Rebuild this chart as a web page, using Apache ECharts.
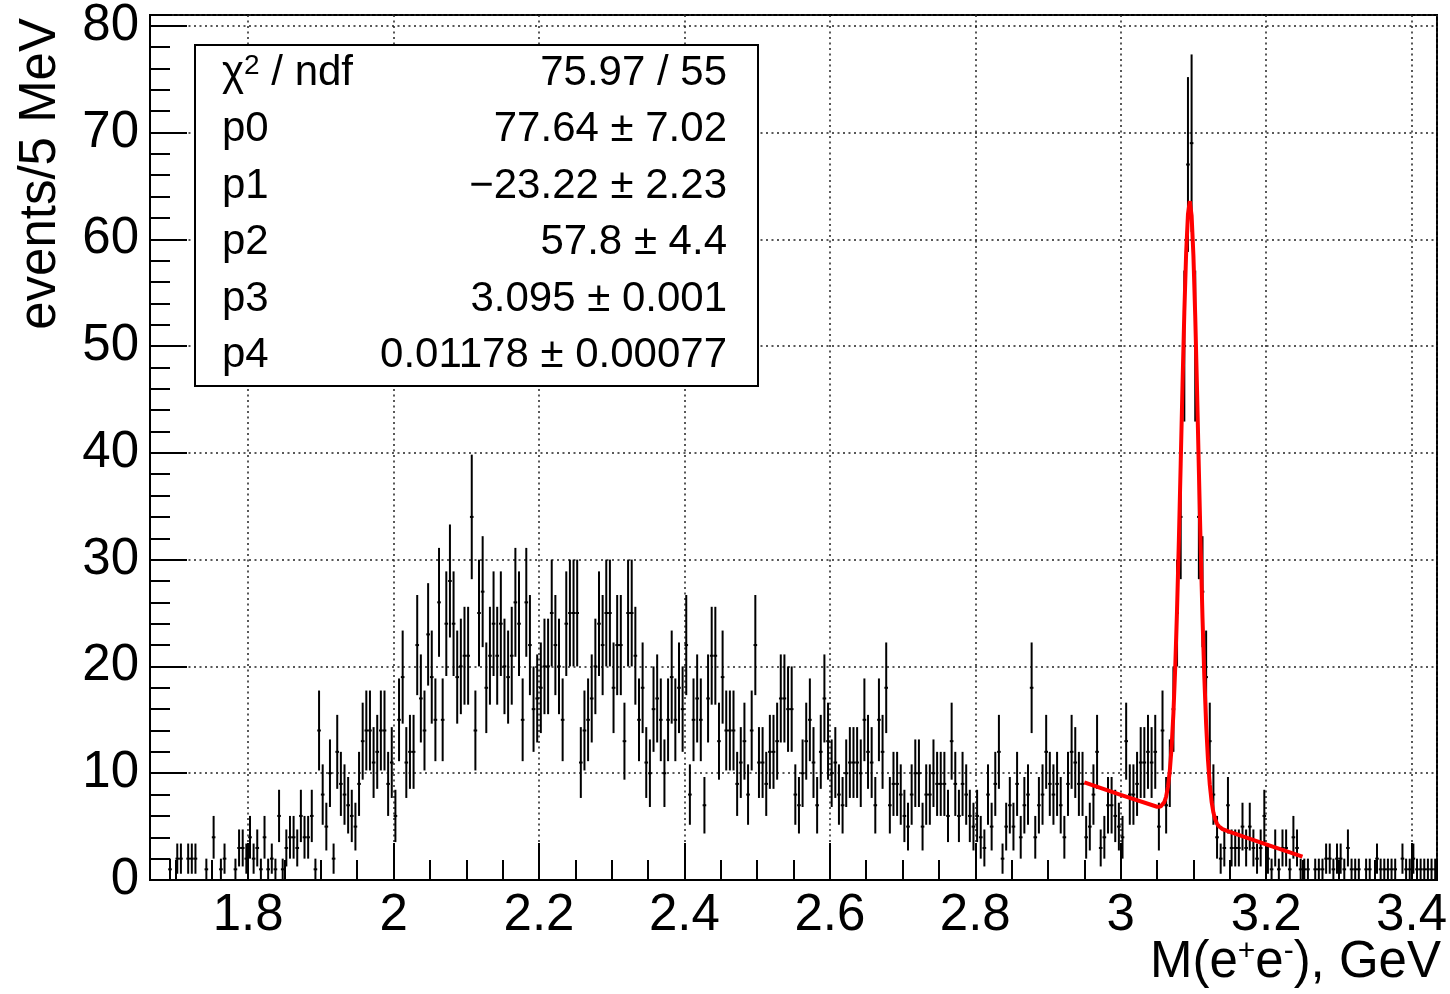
<!DOCTYPE html>
<html>
<head>
<meta charset="utf-8">
<script src="https://cdn.jsdelivr.net/npm/echarts@6/dist/echarts.min.js"></script>
<style>
  html, body { margin: 0; padding: 0; background: #fff; }
  #chart { width: 1450px; height: 994px; }
</style>
</head>
<body>
<div id="chart"></div>
<script>
// histogram range, 5 MeV bins
var xMin = 1.665;
var xMax = 3.435;
var binWidth = 0.005;
var yMax = 81;

// events per bin (bin 0 starts at xMin)
var counts = [
  0,0,0,0,0,1,0,2,2,0, 2,2,2,0,0,1,0,4,0,1,
  2,0,0,1,3,3,2,4,2,3, 1,4,1,2,1,6,1,3,4,4,
  3,6,4,4,6,1,14,8,5,10, 2,12,9,8,7,6,5,9,13,14,
  14,11,12,14,14,9,11,6,15,19, 11,12,12,22,17,14,23,19,15,26,
  15,24,28,24,19,20,21,21,34,14, 25,27,18,21,24,21,24,20,19,21,
  26,24,15,26,22,16,17,18,20,20, 25,22,20,15,24,25,25,25,11,14,
  15,17,20,24,22,25,25,18,22,22, 13,25,25,21,15,18,11,10,16,17,
  15,10,15,19,15,18,16,22,8,15, 17,15,7,17,21,21,13,19,14,14,
  14,9,11,13,8,14,22,11,11,9, 12,12,13,17,17,16,16,8,7,10,
  13,15,11,7,12,17,13,10,11,8, 7,10,11,11,11,10,15,12,11,7,
  15,12,18,7,9,9,8,6,5,8, 10,10,5,8,8,10,9,9,9,6,
  13,9,6,9,8,6,5,6,4,3, 8,5,9,12,2,5,7,5,9,4,
  7,8,18,4,7,8,12,9,8,9, 7,4,9,12,11,9,9,4,5,8,
  12,3,4,7,7,6,5,4,13,8, 8,9,11,11,12,11,12,5,14,7,
  10,16,25,34,50,67,69,50,34,27, 19,13,8,4,2,3,7,3,3,3,
  5,3,5,3,2,3,6,2,1,3, 1,3,3,1,4,3,1,1,1,0,
  1,1,1,2,2,1,2,2,1,3, 1,1,1,0,1,1,0,2,1,1,
  1,1,1,0,2,1,1,2,1,1, 1,1,1,1
];

// red fit curve (pol1 + gaus)
var fitX = [2.95, 3.0, 3.05, 3.0525, 3.055, 3.0575, 3.06, 3.0625, 3.065, 3.0675,
            3.07, 3.0725, 3.075, 3.0775, 3.08, 3.0825, 3.085, 3.0875, 3.09, 3.0925,
            3.095, 3.0975, 3.1, 3.1025, 3.105, 3.1075, 3.11, 3.1125, 3.115, 3.1175,
            3.12, 3.1225, 3.125, 3.1275, 3.13, 3.1325, 3.135, 3.1375, 3.14, 3.15, 3.2, 3.25];
var fitY = [9.14, 7.98, 6.86, 6.85, 6.88, 7.01, 7.29, 7.82, 8.73, 10.20,
            12.43, 15.63, 19.92, 25.35, 31.82, 38.98, 46.33, 53.14, 58.71, 62.34,
            63.57, 62.23, 58.48, 52.79, 45.86, 38.40, 31.13, 24.54, 18.99, 14.58,
            11.27, 8.93, 7.34, 6.31, 5.66, 5.26, 5.03, 4.88, 4.77, 4.50, 3.34, 2.18];

// stats box
var statNames = ['χ{sup|2} / ndf', 'p0', 'p1', 'p2', 'p3', 'p4'];
var statValues = ['75.97 / 55', '77.64 ± 7.02', '−23.22 ± 2.23', '57.8 ± 4.4', '3.095 ± 0.001', '0.01178 ± 0.00077'];

var FONT = '"Liberation Sans", Arial, Helvetica, sans-serif';

var histData = [];
for (var i = 0; i < counts.length; i++) {
  if (counts[i] > 0) histData.push([xMin + (i + 0.5) * binWidth, counts[i]]);
}
var fitData = fitX.map(function (x, k) { return [x, fitY[k]]; });

function renderErr(params, api) {
  var x = api.value(0), y = api.value(1);
  var e = Math.sqrt(y);   // poisson error, as ROOT draws it
  var l = api.coord([x - binWidth / 2, y]);
  var r = api.coord([x + binWidth / 2, y]);
  var t = api.coord([x, y + e]);
  var b = api.coord([x, Math.max(y - e, 0)]);
  var st = { stroke: '#000', lineWidth: 2 };
  return {
    type: 'group',
    children: [
      { type: 'line', shape: { x1: l[0], y1: l[1], x2: r[0], y2: r[1] }, style: st },
      { type: 'line', shape: { x1: t[0], y1: t[1], x2: b[0], y2: b[1] }, style: st }
    ]
  };
}

var gridLine = { show: true, lineStyle: { color: '#222', width: 1.5, type: [2, 3.5] } };
var axLine = { show: true, lineStyle: { color: '#000', width: 2 } };
var supStyle = { fontSize: 28, fontFamily: 'Liberation Sans', verticalAlign: 'top', fill: '#000', padding: [0, 0, 12, 0] };

var statGraphics = [{
  type: 'rect', z: 100,
  shape: { x: 195, y: 45, width: 563, height: 341 },
  style: { fill: '#fff', stroke: '#000', lineWidth: 2 }
}];
for (var s = 0; s < statNames.length; s++) {
  var yy = 73 + s * 56.5;
  statGraphics.push({
    type: 'text', z: 101, x: 222, y: yy,
    style: { text: statNames[s], font: '42px ' + FONT, fill: '#000', textAlign: 'left', textVerticalAlign: 'middle',
             rich: { sup: supStyle } }
  });
  statGraphics.push({
    type: 'text', z: 101, x: 727, y: yy,
    style: { text: statValues[s], font: '42px ' + FONT, fill: '#000', textAlign: 'right', textVerticalAlign: 'middle' }
  });
}

var chart = echarts.init(document.getElementById('chart'));
chart.setOption({
  animation: false,
  backgroundColor: '#fff',
  textStyle: { fontFamily: FONT },
  grid: { left: 150, top: 15, right: 9, bottom: 114, show: true, borderColor: '#000', borderWidth: 2 },
  xAxis: [{
    type: 'value', min: xMin, max: xMax, splitNumber: 8,
    axisLine: axLine,
    axisTick: { inside: true, length: 37, lineStyle: { color: '#000', width: 2 } },
    axisLabel: { fontSize: 51, color: '#000', margin: 10, showMinLabel: false, showMaxLabel: false },
    splitLine: gridLine
  }, {
    type: 'value', min: xMin, max: xMax, splitNumber: 35, position: 'bottom',
    axisLine: { show: false },
    axisTick: { inside: true, length: 20, lineStyle: { color: '#000', width: 2 } },
    axisLabel: { show: false },
    splitLine: { show: false }
  }],
  yAxis: [{
    type: 'value', min: 0, max: yMax, interval: 10,
    axisLine: axLine,
    axisTick: { inside: true, length: 37, lineStyle: { color: '#000', width: 2 } },
    axisLabel: { fontSize: 51, color: '#000', margin: 11, showMaxLabel: false },
    splitLine: gridLine
  }, {
    type: 'value', min: 0, max: yMax, interval: 2, position: 'left',
    axisLine: { show: false },
    axisTick: { inside: true, length: 20, lineStyle: { color: '#000', width: 2 } },
    axisLabel: { show: false },
    splitLine: { show: false }
  }],
  series: [{
    type: 'custom',
    xAxisIndex: 0, yAxisIndex: 0,
    renderItem: renderErr,
    data: histData,
    clip: true,
    z: 3
  }, {
    type: 'line',
    xAxisIndex: 0, yAxisIndex: 0,
    data: fitData,
    showSymbol: false,
    lineStyle: { color: '#ff0000', width: 4 },
    z: 4
  }],
  graphic: statGraphics.concat([{
    type: 'text', z: 100, x: 66, y: 18, rotation: Math.PI / 2,
    style: { text: 'events/5 MeV', font: '51px ' + FONT, fill: '#000', textAlign: 'right', textVerticalAlign: 'bottom' }
  }, {
    type: 'text', z: 100, x: 1441, y: 937,
    style: { text: 'M(e{sup|+}e{sup|-}), GeV', font: '51px ' + FONT, fill: '#000', textAlign: 'right', textVerticalAlign: 'top',
             rich: { sup: { fontSize: 30, fontFamily: 'Liberation Sans', verticalAlign: 'top', fill: '#000', padding: [0, 0, 14, 0] } } }
  }])
});
</script>
</body>
</html>
